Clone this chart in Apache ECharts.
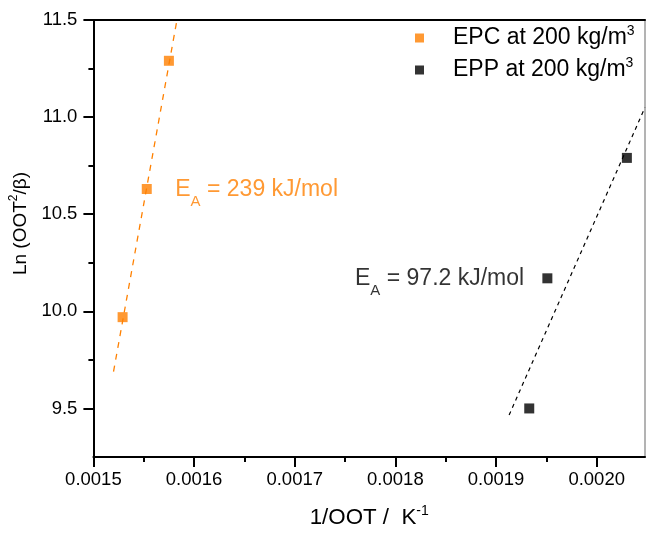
<!DOCTYPE html>
<html><head><meta charset="utf-8">
<script src="https://cdn.jsdelivr.net/npm/echarts@6/dist/echarts.min.js"></script>
<style>html,body{margin:0;padding:0;background:#fff}#c{width:646px;height:534px}</style>
</head><body><div id="c"></div>
<script>
// ---- data ----
const epcX = [0.001529, 0.001553, 0.001575];
const epcY = [9.97, 10.63, 11.29];
const eppX = [0.001933, 0.001951, 0.002030];
const eppY = [9.50, 10.17, 10.79];
const epcFitX = [0.001520, 0.001583];
const epcFitY = [9.69, 11.50];
const eppFitX = [0.001913, 0.002048];
const eppFitY = [9.466, 11.05];
const xTicks = [0.0015, 0.0016, 0.0017, 0.0018, 0.0019, 0.0020];
const xMinorTicks = [0.00155, 0.00165, 0.00175, 0.00185, 0.00195];
const yTicks = [9.5, 10.0, 10.5, 11.0, 11.5];
const yMinorTicks = [9.75, 10.25, 10.75, 11.25];
const seriesNames = ['EPC at 200 kg/m3', 'EPP at 200 kg/m3'];
const annotX = [0.0015813, 0.0017599];
const annotY = [10.629, 10.168];
const annotValues = ['239', '97.2'];

const ORANGE = '#FF8000';
const FONT = '"Liberation Sans", Arial, sans-serif';
const zip = (a, b) => a.map((v, i) => [v, b[i]]);
const X_MIN = 0.0015, X_MAX = 0.002048, Y_MIN = 9.25, Y_MAX = 11.5;

const chart = echarts.init(document.getElementById('c'), null, {renderer: 'canvas'});

function annotRich(color) {
  return {
    m: {fontSize: 23, lineHeight: 40, fontFamily: FONT, color: color},
    s: {fontSize: 15, lineHeight: 15, verticalAlign: 'bottom', fontFamily: FONT, color: color}
  };
}

const axisLineStyle = {color: '#000', width: 2};

const option = {
  animation: false,
  backgroundColor: '#fff',
  grid: {left: 92, top: 20, right: 1, bottom: 69, containLabel: false},
  legend: {
    orient: 'vertical',
    left: 410, top: 19,
    itemWidth: 9, itemHeight: 9, itemGap: 6.5,
    icon: 'rect',
    data: seriesNames,
    formatter: function (n) { return '{m|' + n.slice(0, -1) + '}{s|3}'; },
    textStyle: {padding: [0, 0, 0, 24], rich: {
      m: {fontSize: 23, lineHeight: 28, fontFamily: FONT, color: '#000'},
      s: {fontSize: 14, lineHeight: 14, verticalAlign: 'top', fontFamily: FONT, color: '#000'}
    }}
  },
  xAxis: [
    {
      type: 'value', position: 'bottom', min: X_MIN, max: X_MAX, interval: 0.0001,
      splitLine: {show: false},
      axisLine: {show: true, lineStyle: axisLineStyle},
      axisTick: {show: true, inside: false, length: 10, lineStyle: axisLineStyle, customValues: xTicks},
      axisLabel: {customValues: xTicks, margin: 13, fontSize: 18.5, color: '#000', fontFamily: FONT,
        formatter: v => v.toFixed(4)},
      name: '{m|1/OOT /  K}{s|-1}', nameLocation: 'middle', nameGap: 47,
      nameTextStyle: {rich: {
        m: {fontSize: 22.3, lineHeight: 28, fontFamily: FONT, color: '#000'},
        s: {fontSize: 14, lineHeight: 14, verticalAlign: 'top', fontFamily: FONT, color: '#000'}
      }}
    },
    {
      type: 'value', position: 'bottom', min: X_MIN, max: X_MAX,
      splitLine: {show: false},
      axisLine: {show: false},
      axisTick: {show: true, length: 5, lineStyle: axisLineStyle, customValues: xMinorTicks},
      axisLabel: {show: false}
    },
    {
      type: 'value', position: 'top', min: X_MIN, max: X_MAX,
      splitLine: {show: false},
      axisLine: {show: true, lineStyle: axisLineStyle},
      axisTick: {show: false}, axisLabel: {show: false}
    }
  ],
  yAxis: [
    {
      type: 'value', position: 'left', min: Y_MIN, max: Y_MAX, interval: 0.25,
      splitLine: {show: false},
      axisLine: {show: true, lineStyle: axisLineStyle},
      axisTick: {show: true, length: 10, lineStyle: axisLineStyle, customValues: yTicks},
      axisLabel: {customValues: yTicks, margin: 16, fontSize: 18.5, color: '#000', fontFamily: FONT,
        formatter: v => v.toFixed(1)},
      name: '{m|Ln (OOT}{s|2}{m|/β)}', nameLocation: 'middle', nameGap: 54, nameRotate: 90,
      nameTextStyle: {padding: [0, 0, 0, 30], rich: {
        m: {fontSize: 19, lineHeight: 26, fontFamily: FONT, color: '#000'},
        s: {fontSize: 12, lineHeight: 12, verticalAlign: 'top', fontFamily: FONT, color: '#000'}
      }}
    },
    {
      type: 'value', position: 'left', min: Y_MIN, max: Y_MAX,
      splitLine: {show: false},
      axisLine: {show: false},
      axisTick: {show: true, length: 5, lineStyle: axisLineStyle, customValues: yMinorTicks},
      axisLabel: {show: false}
    },
    {
      type: 'value', position: 'right', min: Y_MIN, max: Y_MAX,
      splitLine: {show: false},
      axisLine: {show: true, lineStyle: {color: '#9a9a9a', width: 1.5}},
      axisTick: {show: false}, axisLabel: {show: false}
    }
  ],
  series: [
    {
      name: 'EPC fit', type: 'line', data: zip(epcFitX, epcFitY), showSymbol: false, symbol: 'none',
      lineStyle: {color: ORANGE, width: 1.3, type: [6, 6]}, silent: true, clip: true, z: 1
    },
    {
      name: 'EPP fit', type: 'line', data: zip(eppFitX, eppFitY), showSymbol: false, symbol: 'none',
      lineStyle: {color: '#000', width: 1.2, type: [4, 4]}, silent: true, clip: true, z: 1
    },
    {
      name: seriesNames[0], type: 'scatter', data: zip(epcX, epcY), symbol: 'rect', symbolSize: 10,
      itemStyle: {color: ORANGE}, z: 3
    },
    {
      name: seriesNames[1], type: 'scatter', data: zip(eppX, eppY), symbol: 'rect', symbolSize: 10,
      itemStyle: {color: '#000'}, z: 3
    },
    {
      name: 'annot EPC', type: 'scatter', symbolSize: 0, silent: true,
      data: [[annotX[0], annotY[0]]],
      label: {show: true, position: 'right', distance: 0,
        formatter: '{m|E}{s|A}{m| = ' + annotValues[0] + ' kJ/mol}', rich: annotRich(ORANGE)}
    },
    {
      name: 'annot EPP', type: 'scatter', symbolSize: 0, silent: true,
      data: [[annotX[1], annotY[1]]],
      label: {show: true, position: 'right', distance: 0,
        formatter: '{m|E}{s|A}{m| = ' + annotValues[1] + ' kJ/mol}', rich: annotRich('#000')}
    }
  ]
};
chart.setOption(option);
</script>
</body></html>
